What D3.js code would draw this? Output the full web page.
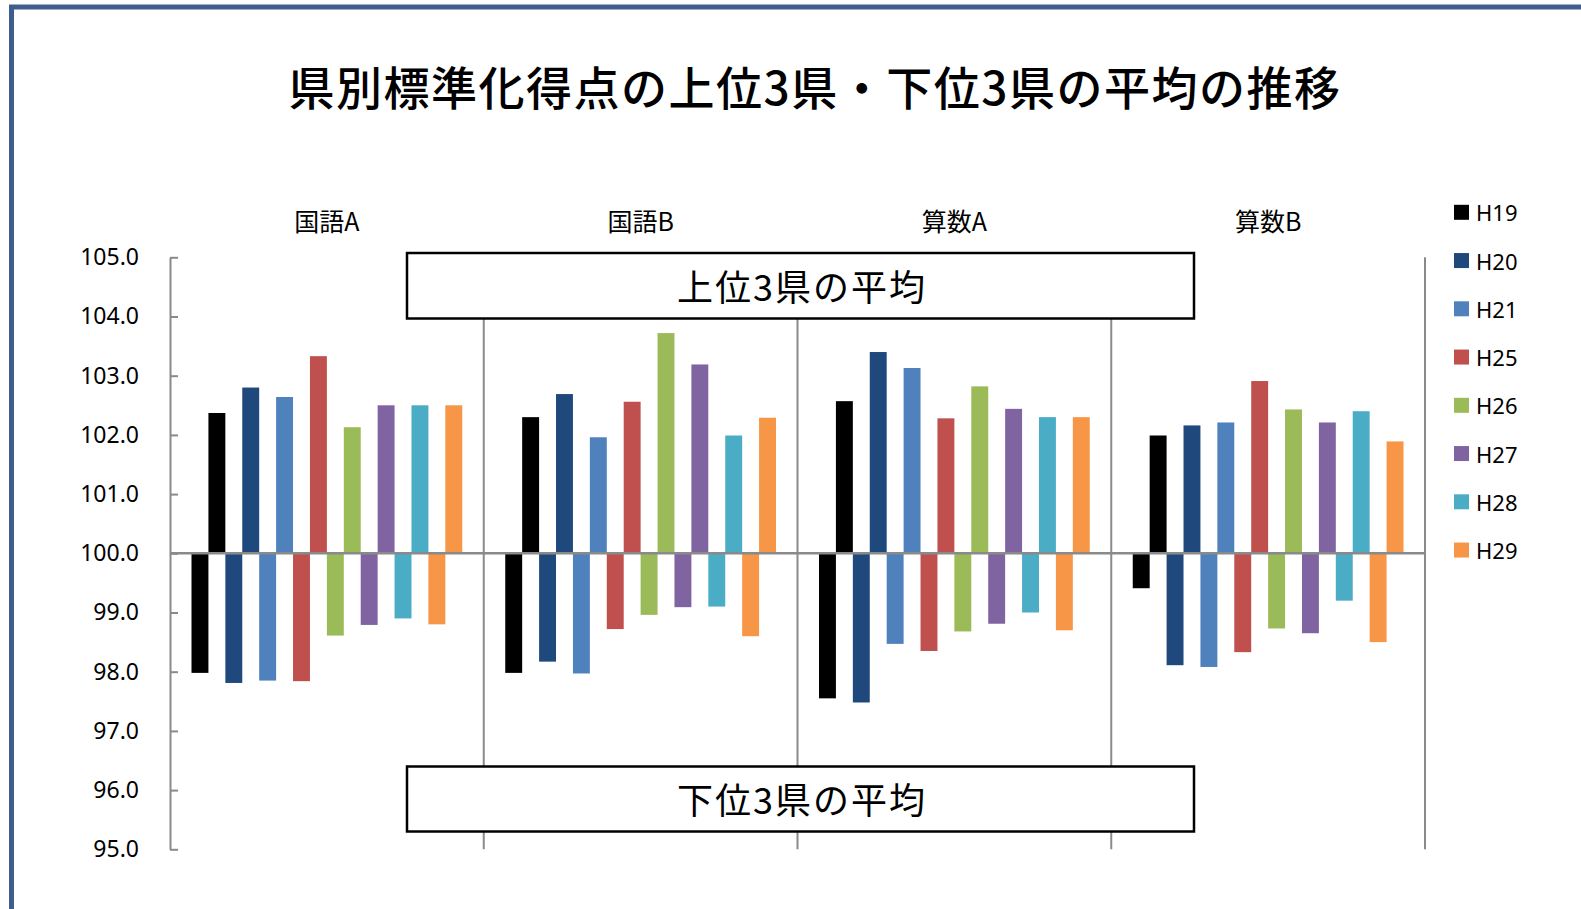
<!DOCTYPE html>
<html>
<head>
<meta charset="utf-8">
<script src="https://cdn.jsdelivr.net/npm/d3@7"></script>
<style>
  body { margin: 0; background: #fff; }
  svg { display: block; }
</style>
</head>
<body>
<div id="chart"></div>
<script>
// data
const subjects = ["国語A", "国語B", "算数A", "算数B"];
const years = ["H19", "H20", "H21", "H25", "H26", "H27", "H28", "H29"];
const colors = ["#000000", "#1F497D", "#4F81BD", "#C0504D", "#9BBB59", "#8064A2", "#4BACC6", "#F79646"];

// 上位3県の平均 (per subject, one value per year)
const upperKokugoA = [102.37, 102.80, 102.64, 103.33, 102.13, 102.50, 102.50, 102.50];
const upperKokugoB = [102.30, 102.69, 101.96, 102.56, 103.72, 103.19, 101.99, 102.29];
const upperSansuA  = [102.57, 103.40, 103.13, 102.28, 102.82, 102.44, 102.30, 102.30];
const upperSansuB  = [101.99, 102.16, 102.21, 102.91, 102.43, 102.21, 102.40, 101.89];

// 下位3県の平均
const lowerKokugoA = [97.98, 97.81, 97.85, 97.84, 98.61, 98.79, 98.90, 98.80];
const lowerKokugoB = [97.98, 98.17, 97.97, 98.72, 98.96, 99.09, 99.10, 98.60];
const lowerSansuA  = [97.55, 97.48, 98.47, 98.35, 98.68, 98.81, 99.00, 98.70];
const lowerSansuB  = [99.41, 98.11, 98.08, 98.33, 98.73, 98.65, 99.20, 98.50];

const yTicks = [95, 96, 97, 98, 99, 100, 101, 102, 103, 104, 105];

const upper = [upperKokugoA, upperKokugoB, upperSansuA, upperSansuB];
const lower = [lowerKokugoA, lowerKokugoB, lowerSansuA, lowerSansuB];

const W = 1581, H = 909;
const plot = { left: 170, right: 1425, top: 257.3, bottom: 849.3 };
const jp = "'Noto Sans CJK JP', 'Noto Sans', sans-serif";
const lat = "'Noto Sans', 'Open Sans', sans-serif";
const gray = "#8a8a8a";

const svg = d3.select("#chart").append("svg")
  .attr("width", W)
  .attr("height", H);

// outer frame
svg.append("rect")
  .attr("x", 11.5).attr("y", 7)
  .attr("width", W + 50).attr("height", H + 50)
  .attr("fill", "#fff")
  .attr("stroke", "#3E5F8E")
  .attr("stroke-width", 5);

// title
svg.append("text")
  .attr("x", 815).attr("y", 85)
  .attr("text-anchor", "middle")
  .attr("dominant-baseline", "central")
  .style("font-family", jp)
  .style("font-size", "46px")
  .style("font-weight", 500)
  .style("letter-spacing", "1.5px")
  .text("県別標準化得点の上位3県・下位3県の平均の推移");

// scales
const x0 = d3.scaleBand()
  .domain(subjects)
  .range([plot.left, plot.right]);

const keys = [];
years.forEach(yr => { keys.push(yr + "-lo"); keys.push(yr + "-hi"); });

const x1 = d3.scaleBand()
  .domain(keys)
  .range([21.5, x0.bandwidth() - 21.5]);

const y = d3.scaleLinear()
  .domain([95, 105])
  .range([plot.bottom, plot.top]);

// vertical separators between subjects
svg.append("g")
  .selectAll("line")
  .data(subjects)
  .enter().append("line")
  .attr("x1", d => x0(d) + x0.bandwidth())
  .attr("x2", d => x0(d) + x0.bandwidth())
  .attr("y1", plot.top)
  .attr("y2", plot.bottom)
  .attr("stroke", gray)
  .attr("stroke-width", 2);

// bars
const bars = [];
subjects.forEach((s, si) => {
  years.forEach((yr, yi) => {
    bars.push({ subject: s, key: yr + "-lo", value: lower[si][yi], color: colors[yi] });
    bars.push({ subject: s, key: yr + "-hi", value: upper[si][yi], color: colors[yi] });
  });
});

svg.append("g")
  .selectAll("rect")
  .data(bars)
  .enter().append("rect")
  .attr("x", d => x0(d.subject) + x1(d.key))
  .attr("width", x1.bandwidth())
  .attr("y", d => Math.min(y(d.value), y(100)))
  .attr("height", d => Math.abs(y(d.value) - y(100)))
  .attr("fill", d => d.color);

// baseline at 100
svg.append("line")
  .attr("x1", plot.left).attr("x2", plot.right)
  .attr("y1", y(100)).attr("y2", y(100))
  .attr("stroke", gray)
  .attr("stroke-width", 2.5);

// y axis (ticks pointing inward)
const yAxis = svg.append("g")
  .attr("transform", `translate(${plot.left},0)`)
  .call(d3.axisLeft(y)
    .tickValues(yTicks)
    .tickFormat(d3.format(".1f"))
    .tickSizeInner(-8)
    .tickSizeOuter(0)
    .tickPadding(31));

yAxis.select(".domain").attr("stroke", gray).attr("stroke-width", 2);
yAxis.selectAll(".tick line").attr("stroke", gray).attr("stroke-width", 2);
yAxis.selectAll(".tick text")
  .attr("fill", "#000")
  .style("font-family", lat)
  .style("font-size", "23px");

// subject labels
svg.append("g")
  .selectAll("text")
  .data(subjects)
  .enter().append("text")
  .attr("x", d => x0(d) + x0.bandwidth() / 2)
  .attr("y", 220)
  .attr("text-anchor", "middle")
  .attr("dominant-baseline", "central")
  .style("font-family", jp)
  .style("font-size", "25px")
  .text(d => d);

// annotation boxes
const boxes = [
  { label: "上位3県の平均", y: 253, h: 65.5 },
  { label: "下位3県の平均", y: 766.5, h: 65 }
];
const box = svg.append("g")
  .selectAll("g")
  .data(boxes)
  .enter().append("g");

box.append("rect")
  .attr("x", 407).attr("width", 787)
  .attr("y", d => d.y).attr("height", d => d.h)
  .attr("fill", "#fff")
  .attr("stroke", "#000")
  .attr("stroke-width", 2.5);

box.append("text")
  .attr("x", 802)
  .attr("y", d => d.y + d.h / 2 - 1)
  .attr("text-anchor", "middle")
  .attr("dominant-baseline", "central")
  .style("font-family", jp)
  .style("font-size", "36px")
  .style("letter-spacing", "2px")
  .text(d => d.label);

// legend
const legend = svg.append("g")
  .selectAll("g")
  .data(years)
  .enter().append("g")
  .attr("transform", (d, i) => `translate(1454, ${212.3 + i * 48.25})`);

legend.append("rect")
  .attr("x", 0).attr("y", -7.5)
  .attr("width", 15).attr("height", 15)
  .attr("fill", (d, i) => colors[i]);

legend.append("text")
  .attr("x", 22)
  .attr("y", 0)
  .attr("dominant-baseline", "central")
  .style("font-family", lat)
  .style("font-size", "22px")
  .text(d => d);
</script>
</body>
</html>
